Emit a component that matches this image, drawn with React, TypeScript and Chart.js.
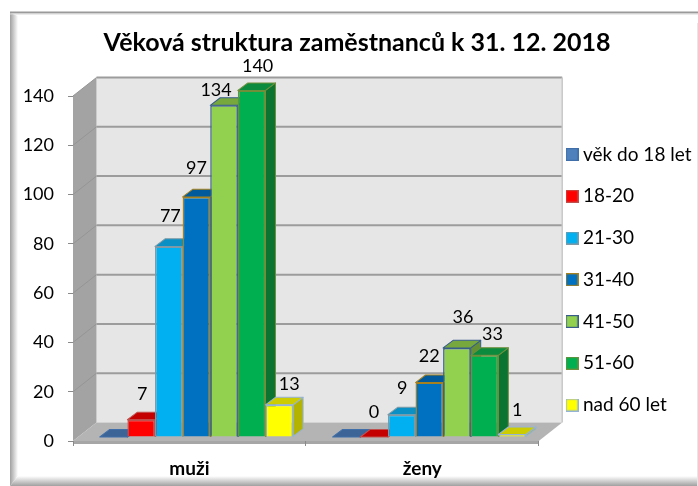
import React, { useEffect, useRef } from "react";
import { Chart, registerables } from "chart.js";

Chart.register(...registerables);

const TITLE = "Věková struktura zaměstnanců k 31. 12. 2018";
const categories = ["muži", "ženy"];
const seriesNames = ["věk do 18 let", "18-20", "21-30", "31-40", "41-50", "51-60", "nad 60 let"];
const under18 = [0, 0];
const age18to20 = [7, 0];
const age21to30 = [77, 9];
const age31to40 = [97, 22];
const age41to50 = [134, 36];
const age51to60 = [140, 33];
const over60 = [13, 1];
const seriesValues = [under18, age18to20, age21to30, age31to40, age41to50, age51to60, over60];

const fills = ["#4f81bd", "#ff0000", "#00b0f0", "#0070c0", "#92d050", "#00b050", "#ffff00"];
const borders = ["#3f6ea8", "#c0504d", "#7f9aa6", "#a5811f", "#385d8a", "#6f8f3b", "#95b3d7"];
const tops = ["#3c6496", "#c40000", "#0a90c4", "#005a9c", "#76a83e", "#0c8a3e", "#cccc00"];
const sides = ["#34587f", "#b00000", "#0a7ea8", "#004f88", "#648f35", "#0b7430", "#b3b300"];
const showLabels = [false, true, true, true, true, true, true];
const labelOffsets = [
  [[0, 0], [0, 0]],
  [[1, 25], [0, 25]],
  [[1.5, 30], [0.5, 27]],
  [[0, 29], [0, 26]],
  [[-8, 15], [6, 31]],
  [[6, 24], [8, 21]],
  [[10, 21], [5, 24]],
];

const FONT = "Lato";
const WALL = { dx: 23.5, dy: -18.5 };
const SHIFT = { dx: 7, dy: -4, stretch: 1.0045 };
const DEPTH = { dx: 10, dy: -7.5 };
const SWATCH_WIDTH = 3;

function poly(ctx: CanvasRenderingContext2D, pts: number[][], fill: any, stroke?: string, lw = 1) {
  ctx.beginPath();
  pts.forEach((p, i) => (i ? ctx.lineTo(p[0], p[1]) : ctx.moveTo(p[0], p[1])));
  ctx.closePath();
  ctx.fillStyle = fill;
  ctx.fill();
  if (stroke) {
    ctx.strokeStyle = stroke;
    ctx.lineWidth = lw;
    ctx.stroke();
  }
}

function swatch(fill: string, border: string) {
  const c = document.createElement("canvas");
  c.width = 13;
  c.height = 13;
  const g = c.getContext("2d") as CanvasRenderingContext2D;
  g.fillStyle = fill;
  g.fillRect(0.5, 0.5, 12, 12);
  g.strokeStyle = border;
  g.lineWidth = 1.2;
  g.strokeRect(0.6, 0.6, 11.8, 11.8);
  return c;
}

function drawFrame(ctx: CanvasRenderingContext2D, w: number, h: number) {
  const left = ctx.createLinearGradient(10, 0, 18, 0);
  left.addColorStop(0, "#a0a0a0");
  left.addColorStop(1, "#ffffff");
  poly(ctx, [[10, 13], [18, 16], [18, 476], [10, 486]], left);
  const bottom = ctx.createLinearGradient(0, 476, 0, 486);
  bottom.addColorStop(0, "#ffffff");
  bottom.addColorStop(1, "#a0a0a0");
  poly(ctx, [[10, 486], [18, 476], [w, 476], [w, 486]], bottom);
  ctx.fillStyle = "#9a9a9a";
  ctx.fillRect(10, 11.5, w - 10, 2);
  ctx.fillStyle = "#d8d8d8";
  ctx.fillRect(10, 13.5, w - 10, 1);
  ctx.fillStyle = "#e6e6e6";
  ctx.fillRect(w - 1, 23, 1, h - 23);
}

const scene3d = {
  id: "scene3d",
  afterLayout(chart: any) {
    const t = chart.titleBlock;
    t.left = 0;
    t.right = 714;
    const l = chart.legend;
    const padding = l.options.labels.padding;
    const width = l.right - l.left;
    l.left = 566 + 6 - SWATCH_WIDTH / 2 - padding;
    l.right = l.left + width;
    const height = l.bottom - l.top;
    l.top = 145 - padding;
    l.bottom = l.top + height;
  },
  beforeDraw(chart: any) {
    const { ctx, width, height, chartArea: a, scales } = chart;
    ctx.save();
    ctx.fillStyle = "#fff";
    ctx.fillRect(0, 0, width, height);
    drawFrame(ctx, width, height);
    const y = scales.y;
    const y0 = y.getPixelForValue(0);
    const yMax = y.getPixelForValue(y.max);
    const L = a.left;
    const R = a.right;
    const { dx, dy } = WALL;
    poly(ctx, [[L + dx, yMax + dy], [R + dx, yMax + dy], [R + dx, y0 + dy], [L + dx, y0 + dy]], "#e6e6e6");
    poly(ctx, [[L, yMax], [L + dx, yMax + dy], [L + dx, y0 + dy], [L, y0]], "#a3a3a3");
    poly(ctx, [[L, y0], [L + dx, y0 + dy], [R + dx, y0 + dy], [R, y0]], "#b4b4b4");
    ctx.fillStyle = "#a6a6a6";
    ctx.fillRect(L, y0, R - L, 3);
    ctx.lineWidth = 2;
    y.ticks.forEach((tick: any) => {
      const p = y.getPixelForValue(tick.value);
      if (tick.value > 0) {
        ctx.strokeStyle = "#9c9c9c";
        ctx.beginPath();
        ctx.moveTo(L + dx, p + dy);
        ctx.lineTo(R + dx, p + dy);
        ctx.stroke();
        ctx.save();
        ctx.lineWidth = 1;
        ctx.strokeStyle = "#959595";
        ctx.beginPath();
        ctx.moveTo(L, p);
        ctx.lineTo(L + dx, p + dy);
        ctx.stroke();
        ctx.restore();
      }
    });
    ctx.strokeStyle = "#c9c9c9";
    ctx.lineWidth = 1.5;
    ctx.beginPath();
    ctx.moveTo(R + dx, yMax + dy);
    ctx.lineTo(R + dx, y0 + dy);
    ctx.stroke();
    ctx.restore();
  },
  // The library would paint the last series first; the 3D look needs left-to-right.
  beforeDatasetDraw() {
    return false;
  },
  afterDatasetsDraw(chart: any) {
    const { ctx, scales } = chart;
    const y0 = scales.y.getPixelForValue(0);
    chart.data.datasets.forEach((_ds: any, i: number) => {
      ctx.save();
      ctx.translate(SHIFT.dx, SHIFT.dy + y0);
      ctx.scale(1, SHIFT.stretch);
      ctx.translate(0, -y0);
      ctx.lineJoin = "round";
      chart.getDatasetMeta(i).data.forEach((el: any) => {
        const { x, y, base, width } = el.getProps(["x", "y", "base", "width"], true);
        const r = x + width / 2;
        const l = x - width / 2;
        poly(ctx, [[r, y], [r + DEPTH.dx, y + DEPTH.dy], [r + DEPTH.dx, base + DEPTH.dy], [r, base]], sides[i], borders[i], 1);
        poly(ctx, [[l, y], [l + DEPTH.dx, y + DEPTH.dy], [r + DEPTH.dx, y + DEPTH.dy], [r, y]], tops[i], borders[i], 1);
        el.draw(ctx);
      });
      ctx.restore();
    });
    ctx.save();
    ctx.font = `18px ${FONT}`;
    ctx.fillStyle = "#000";
    ctx.textAlign = "center";
    ctx.textBaseline = "middle";
    chart.data.datasets.forEach((ds: any, i: number) => {
      if (!showLabels[i]) return;
      chart.getDatasetMeta(i).data.forEach((el: any, j: number) => {
        const top = y0 + SHIFT.dy + (el.y - y0) * SHIFT.stretch;
        const [ox, oy] = labelOffsets[i][j];
        ctx.fillText(String(ds.data[j]), el.x + SHIFT.dx + ox, top - oy);
      });
    });
    ctx.restore();
  },
};

export default function App() {
  const ref = useRef<HTMLCanvasElement>(null);
  useEffect(() => {
    const chart = new Chart(ref.current as HTMLCanvasElement, {
      type: "bar",
      data: {
        labels: categories,
        datasets: seriesNames.map((label, i) => ({
          label,
          data: seriesValues[i],
          backgroundColor: fills[i],
          borderColor: borders[i],
          borderWidth: 1.5,
          pointStyle: swatch(fills[i], borders[i]),
          categoryPercentage: 0.83,
          barPercentage: 1,
        })),
      },
      options: {
        animation: false,
        responsive: false,
        layout: { padding: { left: 0, right: 5.5, top: 0, bottom: 0 } },
        plugins: {
          title: {
            display: true,
            text: TITLE,
            color: "#000",
            font: { family: FONT, size: 25, weight: "bold", lineHeight: 1.2 },
            padding: { top: 28, bottom: 38 },
          },
          legend: {
            position: "right",
            align: "start",
            labels: {
              usePointStyle: true,
              pointStyleWidth: SWATCH_WIDTH,
              boxHeight: 12,
              padding: 22.75,
              color: "#000",
              font: { family: FONT, size: 19 },
            },
          },
          tooltip: { enabled: false },
        },
        scales: {
          x: {
            afterFit: (s: any) => { s.height = 45; },
            grid: { offset: true, drawOnChartArea: false, tickLength: 5, color: "#8a8a8a" },
            border: { display: false },
            ticks: { color: "#000", padding: 11, font: { family: FONT, size: 19, weight: "bold" } },
          },
          y: {
            min: 0,
            max: 140,
            afterFit: (s: any) => { s.width = 73; },
            grid: { drawOnChartArea: false, tickLength: 5, color: "#8a8a8a" },
            border: { display: false },
            ticks: { stepSize: 20, color: "#000", padding: 14, font: { family: FONT, size: 18 } },
          },
        },
      },
      plugins: [scene3d],
    } as any);
    return () => chart.destroy();
  }, []);
  return (
    <div style={{ position: "absolute", left: 0, top: 0, width: 698, height: 486 }}>
      <canvas ref={ref} width={698} height={486} style={{ display: "block" }} />
    </div>
  );
}
